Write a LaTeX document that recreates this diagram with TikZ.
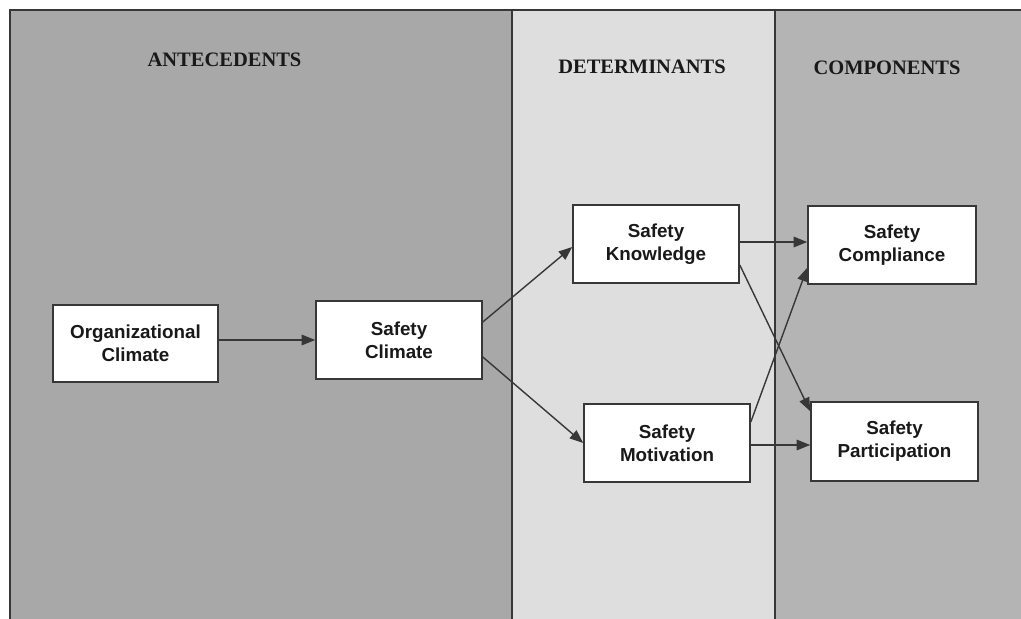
\documentclass[tikz,border=0pt]{standalone}
\usepackage{fontspec}
\setmainfont{Liberation Serif}
\newfontfamily\boxfont{Liberation Sans}
\usetikzlibrary{arrows.meta}
\definecolor{panelA}{RGB}{168,168,168}
\definecolor{panelB}{RGB}{222,222,222}
\definecolor{panelC}{RGB}{180,180,180}
\definecolor{linec}{RGB}{55,55,55}
\definecolor{textc}{RGB}{25,25,25}
\tikzset{
  panel/.style={draw=linec, line width=1.6pt},
  boxnode/.style={draw=linec, line width=1.6pt, fill=white, text=textc,
    align=center, inner sep=0pt,
    font=\boxfont\bfseries\fontsize{18.8}{23}\selectfont},
  heading/.style={text=textc, font=\bfseries\fontsize{20.5}{24}\selectfont},
  conn/.style={draw=linec, line width=1.4pt,
    -{Triangle[length=13.5pt,width=10.5pt]}}
}
\begin{document}
\begin{tikzpicture}[x=1pt,y=-1pt]
\useasboundingbox (0,0) rectangle (1021,619);
\fill[white] (0,0) rectangle (1021,619);
% panels
\fill[panelA] (10,10) rectangle (512,619);
\fill[panelB] (512,10) rectangle (775,619);
\fill[panelC] (775,10) rectangle (1021,619);
\draw[panel] (10,619) -- (10,10) -- (1021,10);
\draw[panel] (512,10) -- (512,619);
\draw[panel] (775,10) -- (775,619);
% headings
\node[heading] (hA) at (224.5,60) {ANTECEDENTS};
\node[heading] (hB) at (642,67) {DETERMINANTS};
\node[heading] (hC) at (887,67.5) {COMPONENTS};
% boxes
\node[boxnode, minimum width=165pt, minimum height=77pt] (OC) at (135.5,343.5) {Organizational\\Climate};
\node[boxnode, minimum width=166pt, minimum height=78pt] (SC) at (399,340) {Safety\\Climate};
\node[boxnode, minimum width=166pt, minimum height=78pt] (SK) at (656,244) {Safety\\Knowledge};
\node[boxnode, minimum width=166pt, minimum height=78pt] (SM) at (667,443) {Safety\\Motivation};
\node[boxnode, minimum width=168pt, minimum height=78pt] (SCo) at (892,245) {Safety\\Compliance};
\node[boxnode, minimum width=167pt, minimum height=79pt] (SP) at (894.5,441.5) {Safety\\Participation};
% connectors
\draw[conn] (OC.east |- 0,340) -- (SC.west |- 0,340);
\draw[conn] ([yshift=18pt]SC.east) -- ([yshift=-3pt]SK.west);
\draw[conn] ([yshift=-17pt]SC.east) -- (SM.west);
\draw[conn] (SK.east |- 0,242) -- (SCo.west |- 0,242);
\draw[conn] ([yshift=-21pt]SK.east) -- ([yshift=-10pt]SP.north west);
\draw[conn] ([yshift=21pt]SM.east) -- ([yshift=17pt]SCo.south west);
\draw[conn] (SM.east |- 0,445) -- (SP.west |- 0,445);
\end{tikzpicture}
\end{document}
